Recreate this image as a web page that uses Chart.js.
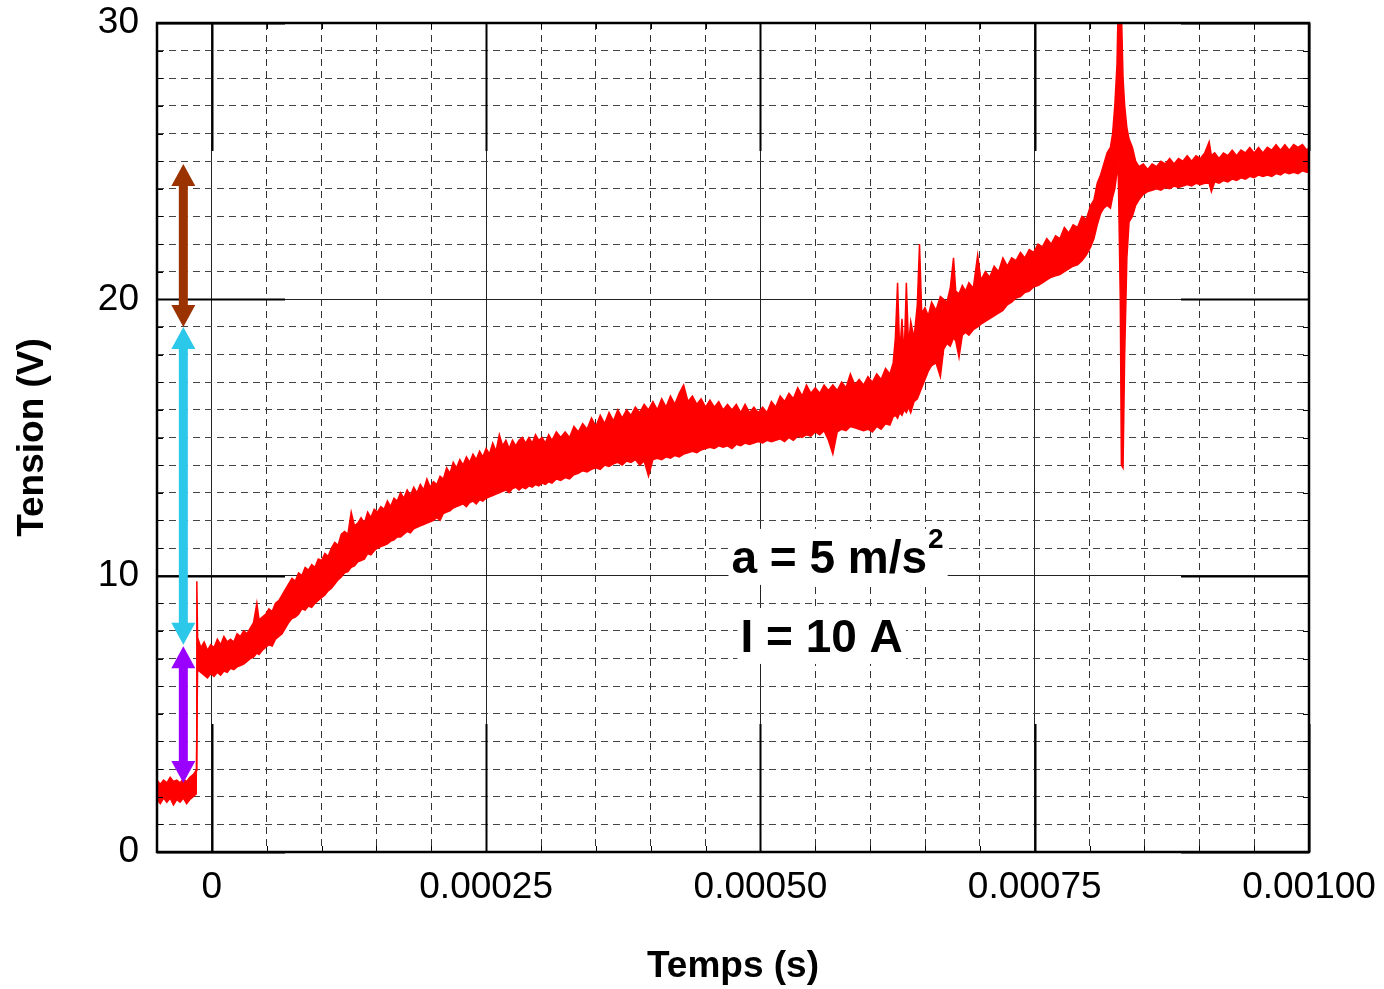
<!DOCTYPE html>
<html>
<head>
<meta charset="utf-8">
<title>Tension (V) - Temps (s)</title>
<script src="https://cdn.jsdelivr.net/npm/chart.js@4.4.0/dist/chart.umd.min.js"></script>
<style>
  html, body { margin: 0; padding: 0; background: #fff; }
</style>
</head>
<body>
<canvas id="chart" width="1384" height="989"></canvas>
<script>
// signal: time in microseconds, upper / lower edge of the noisy band in volts
const timeUs = [
    -50, -47, -44, -41, -38, -35, -32, -29, -26, -23,
    -20, -17, -14.4, -13.7, -13, -10, -7, -4, -1, 2,
    5, 8, 11, 14, 17, 20, 23, 26, 29, 32,
    35, 38, 41, 43, 46, 49, 52, 55, 58, 61,
    64, 67, 70, 73, 76, 79, 82, 85, 88, 91,
    94, 97, 100, 103, 106, 109, 112, 115, 118, 121,
    124, 127, 130, 133, 136, 139, 142, 145, 148, 151,
    154, 157, 160, 163, 166, 169, 172, 175, 178, 181,
    184, 187, 190, 193, 196, 199, 202, 205, 208, 211,
    214, 217, 220, 223, 226, 229, 232, 235, 238, 241,
    244, 247, 250, 253, 256, 259, 262, 265, 268, 271,
    274, 277, 280, 283, 286, 289, 292, 295, 298, 301,
    304, 307, 310, 314, 318, 322, 326, 330, 334, 338,
    342, 346, 350, 354, 358, 362, 366, 370, 374, 378,
    382, 386, 390, 394, 398, 402, 406, 410, 414, 418,
    422, 426, 430, 434, 438, 442, 446, 450, 454, 458,
    462, 466, 470, 474, 478, 482, 486, 490, 494, 498,
    502, 506, 510, 514, 518, 522, 526, 530, 534, 538,
    542, 546, 550, 554, 558, 562, 566, 570, 574, 578,
    582, 586, 590, 594, 598, 602, 606, 610, 614, 618,
    621, 623, 625, 627, 629, 631, 633, 635, 637, 640,
    643, 645, 647, 650, 653, 656, 660, 664, 667, 670,
    673, 676, 678, 681, 684, 687, 690, 694, 698, 701,
    705, 709, 713, 717, 721, 725, 729, 733, 737, 741,
    745, 749, 753, 757, 761, 765, 769, 773, 777, 781,
    785, 789, 793, 797, 801, 804, 807, 810, 813, 816,
    819, 821, 823, 825, 826, 828, 829, 830.5, 832, 834,
    836, 839, 842, 845, 849, 853, 857, 861, 865, 869,
    873, 877, 881, 885, 889, 893, 897, 901, 905, 909,
    911, 914, 918, 922, 926, 930, 934, 938, 942, 946,
    950, 954, 958, 962, 966, 970, 974, 978, 982, 986,
    990, 994, 998, 1000
];
const vHigh = [
    2.6, 2.45, 2.6, 2.5, 2.7, 2.55, 2.6, 2.5, 2.65, 2.55,
    2.7, 2.8, 2.95, 9.8, 7.75, 7.4, 7.6, 7.3, 7.5, 7.4,
    7.7, 7.5, 7.8, 7.6, 7.7, 7.6, 7.9, 7.8, 8.0, 7.9,
    8.1, 8.3, 9.0, 8.4, 8.5, 8.6, 8.8, 8.7, 9.0, 9.1,
    9.3, 9.5, 9.7, 9.9, 9.8, 10.1, 10.0, 10.3, 10.2, 10.4,
    10.3, 10.6, 10.55, 10.8, 10.7, 11.0, 11.2, 11.1, 11.5, 11.6,
    11.5, 12.3, 11.8, 11.9, 12.1, 11.9, 12.3, 12.1, 12.4, 12.3,
    12.5, 12.4, 12.7, 12.5, 12.8, 12.7, 13.0, 12.8, 13.1, 12.9,
    13.2, 13.0, 13.3, 13.1, 13.5, 13.2, 13.4, 13.3, 13.6, 13.5,
    13.9, 13.7, 14.1, 13.9, 14.2, 14.0, 14.3, 14.1, 14.4, 14.2,
    14.5, 14.3, 14.6, 14.4, 14.8, 14.5, 15.1, 14.7, 14.9, 14.6,
    14.9, 14.7, 14.9, 15.0, 14.8, 15.0, 14.8, 15.1, 14.9, 15.0,
    14.8, 15.1, 14.9, 15.2, 15.0, 15.2, 15.0, 15.4, 15.2, 15.5,
    15.3, 15.7, 15.4, 15.8, 15.5, 15.9, 15.6, 16.0, 15.7, 16.0,
    15.8, 16.1, 15.9, 16.2, 16.0, 16.3, 16.0, 16.4, 16.1, 16.5,
    16.2, 16.6, 16.9, 16.3, 16.5, 16.2, 16.4, 16.1, 16.35, 16.1,
    16.3, 16.0, 16.2, 16.0, 16.2, 15.9, 16.2, 15.9, 16.1, 15.9,
    16.1, 15.9, 16.3, 16.1, 16.5, 16.3, 16.6, 16.4, 16.8, 16.5,
    16.9, 16.6, 16.8, 16.6, 16.9, 16.7, 16.9, 16.7, 17.0, 16.8,
    17.3, 16.9, 17.1, 16.9, 17.2, 17.0, 17.3, 17.1, 17.5, 17.3,
    17.7, 18.6, 20.6, 18.0, 19.3, 17.9, 20.6, 18.3, 19.2, 18.6,
    19.8, 22.0, 19.5, 19.7, 19.4, 19.9, 19.6, 20.1, 20.0, 19.9,
    20.4, 21.5, 20.3, 20.2, 20.5, 20.3, 20.6, 20.4, 21.6, 20.7,
    21.0, 20.8, 21.2, 21.0, 21.5, 21.2, 21.5, 21.4, 21.7, 21.5,
    21.8, 21.7, 22.0, 21.9, 22.2, 22.0, 22.3, 22.2, 22.6, 22.4,
    22.7, 22.6, 23.0, 22.9, 23.4, 23.6, 24.2, 24.5, 24.9, 25.3,
    25.5, 26.0, 27.0, 28.5, 30.5, 30.5, 30.5, 28.0, 27.0, 26.2,
    25.8, 25.5, 25.0, 24.8, 24.9, 24.7, 24.9, 24.8, 25.0, 24.9,
    25.1, 24.9, 25.1, 25.0, 25.2, 25.0, 25.2, 25.1, 25.3, 25.7,
    25.2, 25.3, 25.1, 25.3, 25.2, 25.4, 25.2, 25.4, 25.3, 25.5,
    25.3, 25.5, 25.3, 25.5, 25.4, 25.6, 25.4, 25.6, 25.4, 25.6,
    25.5, 25.6, 25.4, 25.5
];
const vLow = [
    1.9, 1.75, 1.95, 1.8, 1.95, 1.7, 1.9, 1.8, 1.95, 1.75,
    1.9, 2.0, 2.1, 2.1, 6.6, 6.5, 6.4, 6.3, 6.45, 6.35,
    6.5, 6.4, 6.55, 6.5, 6.65, 6.6, 6.7, 6.75, 6.8, 6.9,
    7.0, 7.05, 7.2, 7.15, 7.3, 7.4, 7.5, 7.45, 7.7, 7.8,
    7.9, 8.1, 8.3, 8.45, 8.5, 8.6, 8.8, 8.75, 8.9, 8.85,
    9.0, 9.1, 9.2, 9.3, 9.45, 9.55, 9.7, 9.85, 9.95, 10.1,
    10.15, 10.3, 10.35, 10.5, 10.55, 10.6, 10.8, 10.75, 10.9, 11.0,
    11.05, 11.1, 11.15, 11.25, 11.3, 11.4, 11.4, 11.5, 11.6, 11.55,
    11.7, 11.75, 11.8, 11.85, 11.9, 11.95, 12.0, 12.1, 12.0, 12.25,
    12.3, 12.35, 12.45, 12.5, 12.55, 12.6, 12.5, 12.65, 12.7, 12.6,
    12.75, 12.7, 12.8, 12.85, 12.9, 12.95, 13.0, 13.05, 13.1, 13.0,
    13.15, 13.2, 13.1, 13.2, 13.15, 13.25, 13.2, 13.3, 13.25, 13.35,
    13.3, 13.4, 13.35, 13.5, 13.45, 13.55, 13.5, 13.65, 13.7, 13.8,
    13.75, 13.85, 13.9, 13.85, 14.0, 13.95, 14.05, 14.1, 14.0, 14.15,
    14.1, 14.2, 14.0, 14.15, 13.6, 14.2, 14.25, 14.2, 14.3, 14.25,
    14.35, 14.3, 14.4, 14.45, 14.5, 14.45, 14.55, 14.6, 14.65, 14.6,
    14.7, 14.65, 14.7, 14.6, 14.75, 14.7, 14.8, 14.75, 14.8, 14.85,
    14.8, 14.9, 14.85, 14.9, 14.95, 14.85, 15.0, 14.9, 15.05, 15.0,
    15.1, 15.05, 15.2, 15.1, 15.25, 14.9, 14.4, 15.2, 15.3, 15.25,
    15.4, 15.35, 15.3, 15.25, 15.3, 15.2, 15.4, 15.3, 15.5, 15.45,
    15.75, 15.8, 15.7, 15.9, 15.8, 16.0, 15.9, 16.1, 15.9, 16.3,
    16.4, 16.6, 16.8, 17.1, 17.4, 17.6, 17.7, 17.2, 18.2, 18.4,
    18.3, 18.6, 18.5, 17.9, 18.7, 18.8, 18.7, 18.9, 19.0, 19.1,
    19.2, 19.3, 19.4, 19.5, 19.6, 19.8, 19.9, 20.05, 20.1, 20.25,
    20.3, 20.45, 20.5, 20.6, 20.7, 20.8, 20.85, 20.9, 21.0, 21.1,
    21.2, 21.25, 21.4, 21.6, 21.9, 22.2, 22.7, 23.1, 23.3, 23.4,
    23.3, 23.7, 24.0, 24.6, 25.0, 20.0, 14.0, 13.9, 18.0, 21.5,
    22.8, 23.0, 23.4, 23.6, 23.8, 23.9, 23.95, 24.0, 23.95, 24.05,
    24.0, 24.1, 24.05, 24.1, 24.15, 24.1, 24.2, 24.15, 24.2, 24.2,
    23.9, 24.25, 24.2, 24.3, 24.25, 24.35, 24.3, 24.4, 24.35, 24.45,
    24.4, 24.5, 24.45, 24.5, 24.45, 24.55, 24.5, 24.6, 24.55, 24.6,
    24.55, 24.65, 24.6, 24.6
];

// axes
const xTickValues = [0, 0.00025, 0.0005, 0.00075, 0.001];
const xTickLabels = ['0', '0.00025', '0.00050', '0.00075', '0.00100'];
const yTickValues = [0, 10, 20, 30];
const yTickLabels = ['0', '10', '20', '30'];

// double arrows on the left (volts)
const arrowTop = [24.9, 19.0, 7.45];
const arrowBottom = [19.0, 7.5, 2.5];
const arrowColors = ['#9a3300', '#2bc8ea', '#9900ff'];

const FONT = "'Liberation Sans', Arial, Helvetica, sans-serif";

const upperPts = timeUs.map((t, i) => ({ x: t * 1e-6, y: vHigh[i] }));
const lowerPts = timeUs.map((t, i) => ({ x: t * 1e-6, y: vLow[i] }));

function majorIndex(list, v) {
    return list.findIndex(m => Math.abs(m - v) < 1e-9);
}

const frameAndNotes = {
    id: 'frameAndNotes',
    afterDatasetsDraw(chart) {
        const { ctx, chartArea: a, scales: { x, y } } = chart;
        ctx.save();
        ctx.strokeStyle = '#000';

        // inner ticks, long ones on major lines
        x.ticks.forEach(tk => {
            const px = Math.round(x.getPixelForValue(tk.value)) + 0.5;
            const len = majorIndex(xTickValues, tk.value) >= 0 ? 128 : 6;
            ctx.lineWidth = len > 6 ? 2 : 1;
            ctx.beginPath();
            ctx.moveTo(px, a.top); ctx.lineTo(px, a.top + len);
            ctx.moveTo(px, a.bottom); ctx.lineTo(px, a.bottom - len);
            ctx.stroke();
        });
        y.ticks.forEach(tk => {
            const py = Math.round(y.getPixelForValue(tk.value)) + 0.5;
            const len = majorIndex(yTickValues, tk.value) >= 0 ? 128 : 6;
            ctx.lineWidth = len > 6 ? 2 : 1;
            ctx.beginPath();
            ctx.moveTo(a.left, py); ctx.lineTo(a.left + len, py);
            ctx.moveTo(a.right, py); ctx.lineTo(a.right - len, py);
            ctx.stroke();
        });

        // frame
        ctx.lineWidth = 2.5;
        ctx.strokeRect(a.left, a.top, a.right - a.left, a.bottom - a.top);

        // arrows
        const ax = x.getPixelForValue(-0.000026);
        const head = 22, half = 12;
        arrowTop.forEach((top, i) => {
            const y1 = y.getPixelForValue(top);
            const y2 = y.getPixelForValue(arrowBottom[i]);
            ctx.strokeStyle = arrowColors[i];
            ctx.fillStyle = arrowColors[i];
            ctx.lineWidth = 9;
            ctx.beginPath();
            ctx.moveTo(ax, y1 + head - 2); ctx.lineTo(ax, y2 - head + 2);
            ctx.stroke();
            ctx.beginPath();
            ctx.moveTo(ax, y1); ctx.lineTo(ax - half, y1 + head); ctx.lineTo(ax + half, y1 + head);
            ctx.closePath(); ctx.fill();
            ctx.beginPath();
            ctx.moveTo(ax, y2); ctx.lineTo(ax - half, y2 - head); ctx.lineTo(ax + half, y2 - head);
            ctx.closePath(); ctx.fill();
        });

        // text notes with white boxes
        const notes = [
            { text: 'a = 5 m/s', sup: '2', t: 0.0004736, v: 10.1 },
            { text: 'I = 10 A', sup: '', t: 0.0004818, v: 7.24 }
        ];
        notes.forEach(n => {
            const px = x.getPixelForValue(n.t);
            const py = y.getPixelForValue(n.v);
            ctx.font = 'bold 46px ' + FONT;
            const w = ctx.measureText(n.text).width;
            ctx.font = 'bold 28px ' + FONT;
            const ws = n.sup ? ctx.measureText(n.sup).width + 2 : 0;
            ctx.fillStyle = '#fff';
            ctx.fillRect(px - 3, py - 44, w + ws + 6, 56);
            ctx.fillStyle = '#000';
            ctx.textBaseline = 'alphabetic';
            ctx.textAlign = 'left';
            ctx.font = 'bold 46px ' + FONT;
            ctx.fillText(n.text, px, py);
            if (n.sup) {
                ctx.font = 'bold 28px ' + FONT;
                ctx.fillText(n.sup, px + w + 1, py - 25);
            }
        });
        ctx.restore();
    }
};

new Chart(document.getElementById('chart'), {
    type: 'line',
    data: {
        datasets: [
            {
                label: 'haut',
                data: upperPts,
                borderColor: '#ff0000',
                backgroundColor: '#ff0000',
                borderWidth: 1.5,
                pointRadius: 0,
                tension: 0,
                fill: '+1'
            },
            {
                label: 'bas',
                data: lowerPts,
                borderColor: '#ff0000',
                backgroundColor: '#ff0000',
                borderWidth: 1.5,
                pointRadius: 0,
                tension: 0,
                fill: false
            }
        ]
    },
    options: {
        responsive: false,
        animation: false,
        devicePixelRatio: 1,
        layout: { padding: { top: 23, right: 75, left: 0, bottom: 0 } },
        plugins: {
            legend: { display: false },
            tooltip: { enabled: false }
        },
        scales: {
            x: {
                type: 'linear',
                min: -0.00005,
                max: 0.001,
                afterFit: s => {
                    s.height = 137;
                    s.paddingLeft = 0;
                    s.paddingRight = 0;
                },
                ticks: {
                    stepSize: 0.00005,
                    autoSkip: false,
                    maxRotation: 0,
                    padding: 14,
                    color: '#000',
                    font: { family: FONT, size: 37 },
                    callback: v => {
                        const i = majorIndex(xTickValues, v);
                        return i >= 0 ? xTickLabels[i] : '';
                    }
                },
                grid: {
                    drawTicks: false,
                    lineWidth: 1,
                    color: ctx => (ctx.tick && majorIndex(xTickValues, ctx.tick.value) >= 0) ? '#222' : '#333'
                },
                border: {
                    display: false,
                    dash: ctx => (ctx.tick && majorIndex(xTickValues, ctx.tick.value) < 0) ? [7, 5] : []
                },
                title: {
                    display: true,
                    text: 'Temps (s)',
                    color: '#000',
                    font: { family: FONT, size: 37, weight: 'bold' },
                    padding: { top: 0, bottom: 0 }
                }
            },
            y: {
                min: 0,
                max: 30,
                afterFit: s => {
                    s.width = 157;
                    s.paddingTop = 0;
                    s.paddingBottom = 0;
                },
                ticks: {
                    stepSize: 1,
                    autoSkip: false,
                    padding: 18,
                    color: '#000',
                    font: { family: FONT, size: 37 },
                    callback: v => {
                        const i = majorIndex(yTickValues, v);
                        return i >= 0 ? yTickLabels[i] : '';
                    }
                },
                grid: {
                    drawTicks: false,
                    lineWidth: 1,
                    color: ctx => (ctx.tick && majorIndex(yTickValues, ctx.tick.value) >= 0) ? '#222' : '#444'
                },
                border: {
                    display: false,
                    dash: ctx => (ctx.tick && majorIndex(yTickValues, ctx.tick.value) < 0) ? [7, 5] : []
                },
                title: {
                    display: true,
                    text: 'Tension (V)',
                    color: '#000',
                    font: { family: FONT, size: 37, weight: 'bold' },
                    padding: { top: 11, bottom: 0 }
                }
            }
        }
    },
    plugins: [frameAndNotes]
});
</script>
</body>
</html>
